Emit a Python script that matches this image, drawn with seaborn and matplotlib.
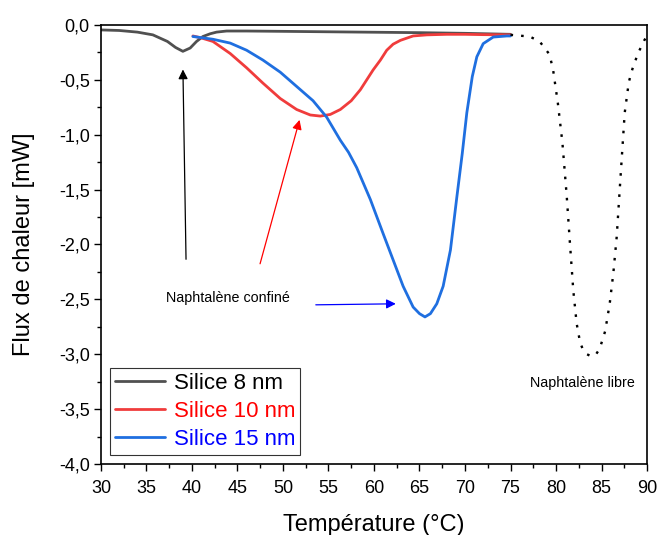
import matplotlib
matplotlib.use("Agg")
import matplotlib.pyplot as plt
from matplotlib.ticker import MultipleLocator, FuncFormatter
import seaborn as sns
import pandas as pd

# ---- data ----
t_8nm = [30, 32, 34, 35.7, 37.3, 38.2, 39.0, 39.8, 40.5, 41.2, 42.0, 42.7, 43.8, 46, 50, 55, 60, 65, 70, 75]
y_8nm = [-0.045, -0.05, -0.065, -0.09, -0.15, -0.205, -0.24, -0.21, -0.15, -0.105, -0.08, -0.065,
         -0.055, -0.055, -0.058, -0.062, -0.066, -0.07, -0.076, -0.085]

t_10nm = [40.1, 40.9, 42.3, 44.2, 46.0, 47.8, 49.7, 51.5, 53.0, 54.1, 55.2, 56.3, 57.5, 58.5, 59.9,
          60.7, 61.4, 62.1, 62.9, 64.3, 65.8, 68, 70, 72, 75]
y_10nm = [-0.10, -0.115, -0.15, -0.26, -0.39, -0.53, -0.67, -0.77, -0.82, -0.83, -0.815, -0.77, -0.69,
          -0.59, -0.41, -0.32, -0.23, -0.175, -0.14, -0.10, -0.09, -0.085, -0.085, -0.088, -0.09]

t_15nm = [40.1, 42.3, 44.2, 46.0, 47.8, 49.7, 51.5, 53.3, 54.8, 56.3, 57.2, 58.1, 59.6, 61.0, 62.1, 63.2,
          64.3, 65.0, 65.6, 66.2, 66.9, 67.6, 68.4, 69.1, 69.7, 70.2, 70.8, 71.3, 72.0, 73.1, 74.6, 75]
y_15nm = [-0.105, -0.13, -0.165, -0.23, -0.32, -0.43, -0.56, -0.69, -0.84, -1.05, -1.16, -1.30, -1.59,
          -1.90, -2.14, -2.38, -2.57, -2.63, -2.66, -2.63, -2.54, -2.38, -2.05, -1.57, -1.17, -0.80,
          -0.47, -0.29, -0.17, -0.11, -0.10, -0.10]

t_libre = [75, 77.1, 78.2, 79.3, 79.7, 80.2, 80.7, 81.17, 81.54, 81.9, 82.27, 82.64, 82.97, 83.4, 83.9,
           84.4, 84.8, 85.4, 85.9, 86.3, 86.67, 87.0, 87.25, 87.55, 88.0, 88.4, 89.0, 89.7, 90.0]
y_libre = [-0.09, -0.105, -0.15, -0.27, -0.42, -0.71, -1.07, -1.55, -2.0, -2.42, -2.72, -2.89, -2.96,
           -3.0, -3.02, -3.0, -2.95, -2.79, -2.54, -2.26, -1.93, -1.50, -1.18, -0.80, -0.52, -0.40,
           -0.26, -0.14, -0.10]

series_labels = ["Silice 8 nm", "Silice 10 nm", "Silice 15 nm"]
line_colors = ["#505050", "#f03c3c", "#1f6fe0"]
text_colors = ["#000000", "#ff0000", "#0000ff"]

x_ticks = [30, 35, 40, 45, 50, 55, 60, 65, 70, 75, 80, 85, 90]

# ---- plot ----
sns.set_style("white")
plt.rcParams["font.family"] = ["Liberation Sans", "DejaVu Sans"]
plt.rcParams["text.color"] = "black"
plt.rcParams["axes.labelcolor"] = "black"
plt.rcParams["xtick.color"] = "black"
plt.rcParams["ytick.color"] = "black"

fig = plt.figure(figsize=(6.57, 5.35), dpi=100)
ax = fig.add_axes([0.1537, 0.1327, 0.8311, 0.8206])

df8 = pd.DataFrame({"T": t_8nm, "Y": y_8nm})
df10 = pd.DataFrame({"T": t_10nm, "Y": y_10nm})
df15 = pd.DataFrame({"T": t_15nm, "Y": y_15nm})
dfl = pd.DataFrame({"T": t_libre, "Y": y_libre})

for df, lab, col in zip([df8, df10, df15], series_labels, line_colors):
    sns.lineplot(data=df, x="T", y="Y", ax=ax, color=col, lw=2.0, label=lab, sort=False)
sns.lineplot(data=dfl, x="T", y="Y", ax=ax, color="black", lw=1.7, sort=False,
             linestyle=(0, (1.1, 3.4)), legend=False)

ax.set_xlim(30, 90)
ax.set_ylim(-4.0, 0.0)
ax.set_xticks(x_ticks)
ax.xaxis.set_minor_locator(MultipleLocator(2.5))
ax.yaxis.set_major_locator(MultipleLocator(0.5))
ax.yaxis.set_minor_locator(MultipleLocator(0.25))
ax.yaxis.set_major_formatter(FuncFormatter(lambda v, p: f"{v:.1f}".replace(".", ",").replace("-0,0", "0,0")))
ax.tick_params(axis="both", which="major", direction="out", length=5, width=1.0,
               labelsize=13, bottom=True, left=True, top=False, right=False, pad=3)
ax.tick_params(axis="x", which="major", pad=6.5)
ax.tick_params(axis="both", which="minor", direction="out", length=3, width=1.0,
               bottom=True, left=True, top=False, right=False)
for s in ax.spines.values():
    s.set_color("black")
    s.set_linewidth(1.2)

ax.set_xlabel("Température (°C)", fontsize=17, labelpad=12)
ax.set_ylabel("Flux de chaleur [mW]", fontsize=17, labelpad=17)

# annotations
ax.annotate("", xy=(39.0, -0.38), xytext=(39.35, -2.16),
            arrowprops=dict(arrowstyle="-|>", color="black", lw=0.9, mutation_scale=14))
ax.annotate("", xy=(51.9, -0.84), xytext=(47.4, -2.20),
            arrowprops=dict(arrowstyle="-|>", color="red", lw=0.9, mutation_scale=14))
ax.annotate("", xy=(62.7, -2.54), xytext=(53.3, -2.55),
            arrowprops=dict(arrowstyle="-|>", color="blue", lw=0.9, mutation_scale=14))
ax.text(37.1, -2.49, "Naphtalène confiné", fontsize=10.3, va="center", ha="left")
ax.text(77.1, -3.26, "Naphtalène libre", fontsize=10.3, va="center", ha="left")

leg = ax.legend(loc="lower left", bbox_to_anchor=(0.0165, 0.0205), borderaxespad=0,
                fontsize=16, frameon=True, fancybox=False, handlelength=2.25,
                handletextpad=0.4, labelspacing=0.32, borderpad=0.22)
leg.get_frame().set_edgecolor("black")
leg.get_frame().set_linewidth(0.8)
for txt, c in zip(leg.get_texts(), text_colors):
    txt.set_color(c)

fig.savefig("out.png", dpi=100)
